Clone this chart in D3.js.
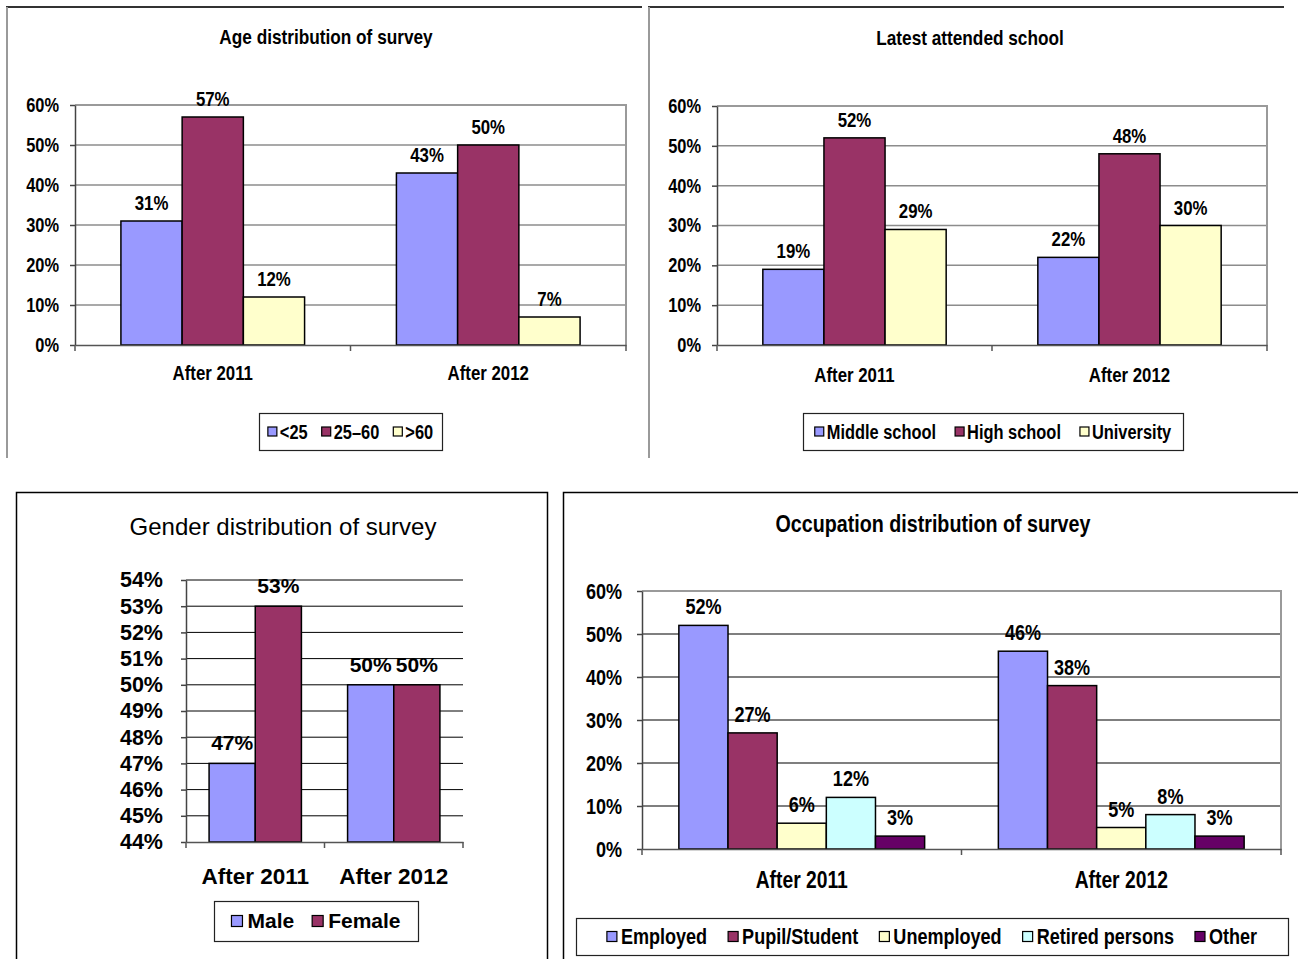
<!DOCTYPE html>
<html>
<head>
<meta charset="utf-8">
<script src="https://cdn.jsdelivr.net/npm/d3@7"></script>
<style>
  html, body { margin: 0; padding: 0; background: #fff; }
  svg { display: block; }
</style>
</head>
<body>
<svg id="chart" width="1298" height="959"></svg>
<script>
// Survey results, in percent
const categories = ["After 2011", "After 2012"];

const ageSeries = ["<25", "25–60", ">60"];
const ageValues = [[31, 43], [57, 50], [12, 7]];

const schoolSeries = ["Middle school", "High school", "University"];
const schoolValues = [[19, 22], [52, 48], [29, 30]];

const genderSeries = ["Male", "Female"];
const genderValues = [[47, 50], [53, 50]];

const occupationSeries = ["Employed", "Pupil/Student", "Unemployed", "Retired persons", "Other"];
const occupationValues = [[52, 46], [27, 38], [6, 5], [12, 8], [3, 3]];

const percentTicks = [0, 10, 20, 30, 40, 50, 60];
const genderTicks = [44, 45, 46, 47, 48, 49, 50, 51, 52, 53, 54];

const seriesColors = ["#9999FF", "#993366", "#FFFFCC", "#CCFFFF", "#660066"];

const ARIAL = '"Liberation Sans", Arial, sans-serif';

const svg = d3.select("#chart");

// Squeeze text horizontally to get a narrow face from the regular one
function condense(sel, factor) {
  if (!factor || factor === 1) return;
  sel.each(function () {
    const len = this.getComputedTextLength();
    d3.select(this).attr("textLength", len * factor).attr("lengthAdjust", "spacingAndGlyphs");
  });
}

// Panel frames
function frameLines(g, lines) {
  lines.forEach(l => {
    g.append("line").attr("x1", l[0]).attr("y1", l[1]).attr("x2", l[2]).attr("y2", l[3])
      .attr("stroke", l[4]).attr("stroke-width", l[5]);
  });
}
frameLines(svg, [
  [6, 7, 642, 7, "#333", 2], [7, 7, 7, 458, "#9a9a9a", 2],
  [648, 7, 1284, 7, "#333", 2], [649, 7, 649, 458, "#9a9a9a", 2]
]);
svg.append("rect").attr("x", 16.5).attr("y", 492.5).attr("width", 531).attr("height", 500)
  .attr("fill", "none").attr("stroke", "#000").attr("stroke-width", 1.5);
svg.append("rect").attr("x", 563.5).attr("y", 492.5).attr("width", 800).attr("height", 500)
  .attr("fill", "none").attr("stroke", "#000").attr("stroke-width", 1.5);

function drawPanel(c) {
  const g = svg.append("g");
  const p = c.plot;
  const k = c.squeeze;

  const x = d3.scaleBand().domain(categories).range([p.l, p.r]).padding(0);
  const xs = d3.scaleBand().domain(c.series).range([0, x.bandwidth()])
    .paddingInner(0).paddingOuter(c.pad);
  const y = d3.scaleLinear().domain(c.domain).range([p.b, p.t]);

  // title
  const title = g.append("text").attr("x", c.titleX).attr("y", c.titleY).attr("text-anchor", "middle")
    .style("font-family", ARIAL).style("font-size", c.titleSize + "px")
    .style("font-weight", c.titleWeight).attr("fill", "#000").text(c.title);
  condense(title, k);

  // gridlines
  g.append("g").selectAll("line").data(c.ticks.slice(1)).join("line")
    .attr("x1", p.l).attr("x2", p.r).attr("y1", d => y(d)).attr("y2", d => y(d))
    .attr("stroke", c.gridColor).attr("stroke-width", c.gridWidth);

  // plot area border (top and right edges)
  if (c.plotBorder) {
    g.append("path")
      .attr("d", `M${p.l},${y(c.domain[1])}H${p.r}V${p.b}`)
      .attr("fill", "none").attr("stroke", "#9a9a9a").attr("stroke-width", 2);
  }

  // bars
  c.series.forEach((s, si) => {
    g.append("g").selectAll("rect").data(categories).join("rect")
      .attr("x", d => x(d) + xs(s))
      .attr("width", xs.bandwidth())
      .attr("y", (d, ci) => y(c.values[si][ci]))
      .attr("height", (d, ci) => y(c.domain[0]) - y(c.values[si][ci]))
      .attr("fill", seriesColors[si]).attr("stroke", "#000").attr("stroke-width", 1.5);
  });

  // data labels
  c.series.forEach((s, si) => {
    const t = g.append("g").selectAll("text").data(categories).join("text")
      .attr("x", d => x(d) + xs(s) + xs.bandwidth() / 2)
      .attr("y", (d, ci) => y(c.values[si][ci]) - c.labelOffset)
      .attr("text-anchor", "middle")
      .style("font-family", ARIAL).style("font-size", c.labelSize + "px")
      .style("font-weight", "bold").text((d, ci) => c.values[si][ci] + "%");
    condense(t, k);
  });

  // y axis
  const yAxis = d3.axisLeft(y).tickValues(c.ticks).tickFormat(d => d + "%")
    .tickSizeInner(5).tickSizeOuter(0).tickPadding(c.tickPad);
  const ya = g.append("g").attr("transform", `translate(${p.l},0)`).call(yAxis);
  ya.select(".domain").attr("stroke", "#444").attr("stroke-width", 1.5);
  ya.selectAll(".tick line").attr("stroke", "#444").attr("stroke-width", 1.5);
  const yt = ya.selectAll(".tick text").style("font-family", ARIAL).style("font-size", c.tickSize + "px")
    .style("font-weight", "bold").attr("fill", "#000");
  condense(yt, k);

  // x axis: labels at category centres, tick marks between categories
  const xAxis = d3.axisBottom(x).tickSize(0).tickPadding(0);
  const xa = g.append("g").attr("transform", `translate(0,${p.b})`).call(xAxis);
  xa.select(".domain").attr("stroke", "#555").attr("stroke-width", 1.5);
  const xt = xa.selectAll(".tick text").attr("y", c.catLabelY - p.b).attr("dy", 0)
    .style("font-family", ARIAL).style("font-size", c.catSize + "px")
    .style("font-weight", "bold").attr("fill", "#000");
  condense(xt, k);
  const edges = categories.map(d => x(d)).concat([x(categories[categories.length - 1]) + x.bandwidth()]);
  xa.selectAll(".edge").data(edges).join("line").attr("class", "edge")
    .attr("x1", d => d).attr("x2", d => d).attr("y1", 0).attr("y2", 6)
    .attr("stroke", "#555").attr("stroke-width", 1.5);

  // legend
  const L = c.legend;
  const lg = g.append("g");
  lg.append("rect").attr("x", L.x + 0.5).attr("y", L.y + 0.5).attr("width", L.w).attr("height", L.h)
    .attr("fill", "#fff").attr("stroke", "#222").attr("stroke-width", 1.2);
  const items = c.series.map((s, si) => {
    const it = lg.append("g");
    it.append("rect").attr("x", 0).attr("y", -L.marker / 2).attr("width", L.marker).attr("height", L.marker)
      .attr("fill", seriesColors[si]).attr("stroke", "#000").attr("stroke-width", 1.2);
    const t = it.append("text").attr("x", L.marker + L.gap).attr("y", 0).attr("dy", "0.35em")
      .style("font-family", ARIAL).style("font-size", L.size + "px")
      .style("font-weight", "bold").text(s);
    const natural = t.node().getComputedTextLength();
    condense(t, k);
    return { it, w: L.marker + L.gap + natural * (k || 1) };
  });
  const total = d3.sum(items, d => d.w) + L.spacing * (items.length - 1);
  let cx = L.x + L.w / 2 - total / 2;
  const cy = L.y + L.h / 2;
  items.forEach(d => {
    d.it.attr("transform", `translate(${cx},${cy})`);
    cx += d.w + L.spacing;
  });
}

drawPanel({
  title: "Age distribution of survey", titleX: 326, titleY: 44,
  titleSize: 21, titleWeight: "bold", squeeze: 0.82,
  tickSize: 20, labelSize: 20.5, catSize: 20.5, tickPad: 11,
  plot: { l: 75, t: 105, r: 626, b: 345 }, domain: [0, 60], ticks: percentTicks,
  series: ageSeries, values: ageValues, pad: 0.75,
  gridColor: "#8c8c8c", gridWidth: 1.5, plotBorder: true, labelOffset: 11, catLabelY: 380,
  legend: { x: 259, y: 413, w: 183, h: 37, size: 20, marker: 9, gap: 3, spacing: 14 }
});

drawPanel({
  title: "Latest attended school", titleX: 970, titleY: 45,
  titleSize: 21, titleWeight: "bold", squeeze: 0.82,
  tickSize: 20, labelSize: 20.5, catSize: 20.5, tickPad: 11,
  plot: { l: 717, t: 106, r: 1267, b: 345 }, domain: [0, 60], ticks: percentTicks,
  series: schoolSeries, values: schoolValues, pad: 0.75,
  gridColor: "#8c8c8c", gridWidth: 1.5, plotBorder: true, labelOffset: 11, catLabelY: 382,
  legend: { x: 803, y: 413, w: 380, h: 37, size: 20, marker: 9, gap: 3, spacing: 19 }
});

drawPanel({
  title: "Gender distribution of survey", titleX: 283, titleY: 535,
  titleSize: 24, titleWeight: "normal", squeeze: 1,
  tickSize: 21.5, labelSize: 21, catSize: 22.5, tickPad: 18,
  plot: { l: 186, t: 580, r: 463, b: 842 }, domain: [44, 54], ticks: genderTicks,
  series: genderSeries, values: genderValues, pad: 0.5,
  gridColor: "#000", gridWidth: 1, plotBorder: false, labelOffset: 13, catLabelY: 884,
  legend: { x: 214, y: 901, w: 204, h: 40, size: 21, marker: 11, gap: 5, spacing: 18 }
});

drawPanel({
  title: "Occupation distribution of survey", titleX: 933, titleY: 532,
  titleSize: 24, titleWeight: "bold", squeeze: 0.82,
  tickSize: 22, labelSize: 22, catSize: 23.5, tickPad: 15,
  plot: { l: 642, t: 591, r: 1281, b: 849 }, domain: [0, 60], ticks: percentTicks,
  series: occupationSeries, values: occupationValues, pad: 0.75,
  gridColor: "#000", gridWidth: 1.2, plotBorder: true, labelOffset: 11, catLabelY: 888,
  legend: { x: 576, y: 918, w: 712, h: 37, size: 22, marker: 10, gap: 4, spacing: 21 }
});
</script>
</body>
</html>
